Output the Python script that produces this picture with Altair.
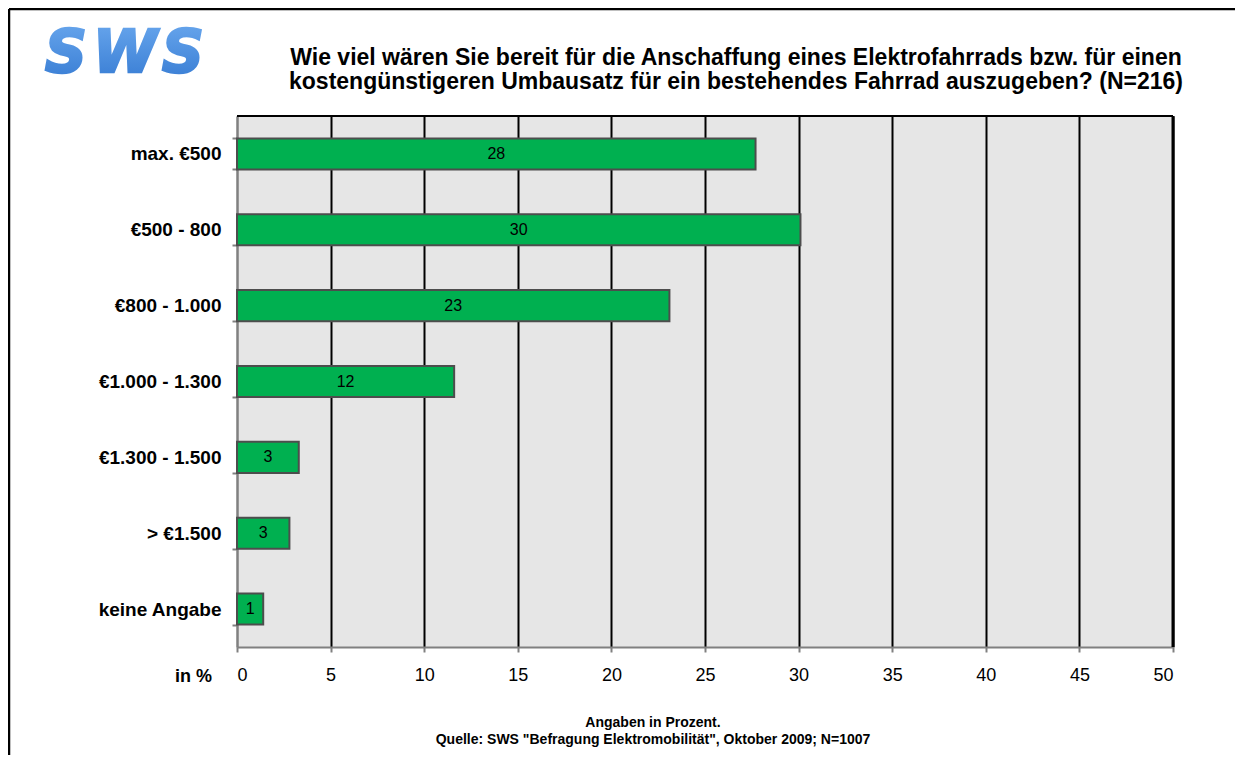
import altair as alt
import pandas as pd

categories = ["max. €500", "€500 - 800", "€800 - 1.000", "€1.000 - 1.300",
              "€1.300 - 1.500", "> €1.500", "keine Angabe"]
values = [27.7, 30.1, 23.1, 11.6, 3.3, 2.8, 1.4]
value_labels = ["28", "30", "23", "12", "3", "3", "1"]
x_ticks = [0, 5, 10, 15, 20, 25, 30, 35, 40, 45, 50]

title_lines = [
    "Wie viel wären Sie bereit für die Anschaffung eines Elektrofahrrads bzw. für einen",
    "kostengünstigeren Umbausatz für ein bestehendes Fahrrad auszugeben? (N=216)",
]
footer_lines = [
    "Angaben in Prozent.",
    'Quelle: SWS "Befragung Elektromobilität", Oktober 2009; N=1007',
]
logo_letters = ["S", "W", "S"]
x_unit_label = "in %"

FONT = "Liberation Sans"
W, H = 936, 531
PAD_L, PAD_T, PAD_R, PAD_B = 229, 108, 70, 110

df = pd.DataFrame({"cat": categories, "val": values, "lab": value_labels})
df["mid"] = df["val"] / 2

one = alt.Data(values=[{"k": 1}])

x_enc = alt.X(
    "val:Q",
    scale=alt.Scale(domain=[0, 50], nice=False),
    axis=alt.Axis(
        values=x_ticks, grid=True,
        gridColor=alt.condition("datum.value === 0", alt.value("#808080"), alt.value("#000000")),
        gridWidth=2,
        domainColor="#808080", domainWidth=2,
        tickColor="#808080", tickWidth=2, tickSize=5,
        labelFont=FONT, labelFontSize=18, labelColor="black", labelPadding=14,
        title=None,
    ),
)
y_enc = alt.Y(
    "cat:N", sort=categories,
    scale=alt.Scale(paddingInner=0.59, paddingOuter=0.295),
    axis=alt.Axis(
        title=None, tickBand="extent",
        domainColor="#808080", domainWidth=2,
        tickColor="#808080", tickWidth=2, tickSize=5,
        labelFont=FONT, labelFontSize=19, labelFontWeight="bold",
        labelColor="black", labelPadding=11, labelLimit=300,
    ),
)

bars = alt.Chart(df).mark_bar(color="#00B050", stroke="#4D4D4D", strokeWidth=2).encode(
    x=x_enc, y=y_enc
)
bar_text = alt.Chart(df).mark_text(font=FONT, fontSize=16, color="black",
                                   align="center", baseline="middle").encode(
    x=alt.X("mid:Q"), y=alt.Y("cat:N", sort=categories), text="lab:N"
)

top_border = alt.Chart(one).mark_rule(color="black", strokeWidth=2).encode(
    x=alt.value(0), x2=alt.value(W), y=alt.value(0)
)
right_border = alt.Chart(one).mark_rule(color="black", strokeWidth=3).encode(
    x=alt.value(W), y=alt.value(0), y2=alt.value(H)
)

frame_left = alt.Chart(one).mark_rule(color="black", strokeWidth=2.5).encode(
    x=alt.value(-PAD_L + 1), y=alt.value(-PAD_T + 1), y2=alt.value(H + PAD_B - 2)
)
frame_top = alt.Chart(one).mark_rule(color="black", strokeWidth=2.5).encode(
    x=alt.value(-PAD_L + 1), x2=alt.value(W + PAD_R - 8), y=alt.value(-PAD_T + 1)
)

title = alt.Chart(one).mark_text(font=FONT, fontSize=23, fontWeight="bold", color="black",
                                 align="center", baseline="alphabetic", lineHeight=24).encode(
    x=alt.value(499), y=alt.value(-51), text=alt.value(title_lines)
)

footer = alt.Chart(one).mark_text(font=FONT, fontSize=14, fontWeight="bold", color="black",
                                  align="center", baseline="alphabetic", lineHeight=17).encode(
    x=alt.value(416), y=alt.value(611), text=alt.value(footer_lines)
)

unit = alt.Chart(one).mark_text(font=FONT, fontSize=18, fontWeight="bold", color="black",
                                align="right", baseline="alphabetic").encode(
    x=alt.value(-25), y=alt.value(566), text=alt.value(x_unit_label)
)

grad = {"gradient": "linear", "x1": 0, "y1": 0, "x2": 0, "y2": 1,
        "stops": [{"offset": 0, "color": "#6AA8EE"}, {"offset": 1, "color": "#357AD2"}]}
logo_layers = []
for letter, xp in zip(logo_letters, [-171, -112, -54]):
    logo_layers.append(
        alt.Chart(one).mark_text(font="DejaVu Sans", fontSize=58, fontWeight="bold",
                                 fontStyle="italic", align="center", baseline="alphabetic",
                                 fill=grad, stroke=grad, strokeWidth=2.5).encode(
            x=alt.value(xp), y=alt.value(-44), text=alt.value(letter)
        )
    )

chart = alt.layer(
    bars, bar_text, top_border, right_border, frame_left, frame_top, title, footer, unit,
    *logo_layers
).properties(
    width=W, height=H,
    background="white",
    autosize=alt.AutoSizeParams(type="none"),
    padding={"left": PAD_L, "top": PAD_T, "right": PAD_R, "bottom": PAD_B},
).configure_view(fill="#E6E6E6", strokeWidth=0)

chart.save("out.html", embed_options={"renderer": "svg", "actions": False})
